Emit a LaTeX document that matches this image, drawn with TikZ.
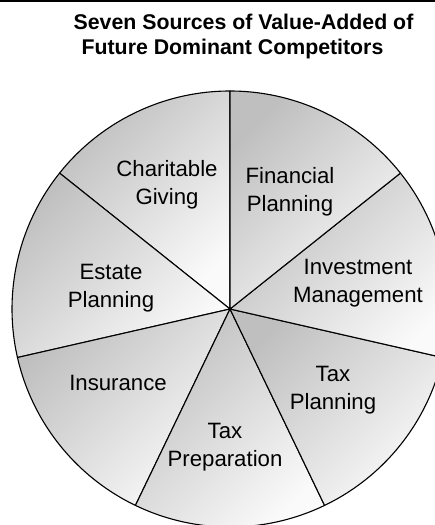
\documentclass[tikz,border=0pt]{standalone}
\usepackage{fontspec}
\setmainfont{Liberation Sans}
\definecolor{sliceDark}{HTML}{BFBFBF}
\definecolor{sliceLight}{HTML}{FAFAFA}
\begin{document}
\begin{tikzpicture}[x=1pt,y=1pt,
  slice/.style={draw=black, line width=1.1pt, line join=round,
    top color=sliceDark, bottom color=sliceLight, shading angle=45},
  lbl/.style={font=\fontsize{22.2}{28}\selectfont, align=center, text=black, inner sep=0pt},
  ttl/.style={font=\fontsize{21.3}{25}\selectfont\bfseries, anchor=base, inner sep=0pt}]
\useasboundingbox (0,0) rectangle (435,525);
\clip (0,0) rectangle (435,525);

% rule across the top
\fill[black] (0,522.5) rectangle (435,525);

% title
\node[ttl] (title1) at (243.5,495.7) {Seven Sources of Value-Added of};
\node[ttl] (title2) at (232.5,470.7) {Future Dominant Competitors};

% pie of seven equal slices
\coordinate (c) at (230,216);
\def\R{218}
\path[slice] (c) -- ++(90:\R)     arc[start angle=90,     end angle=141.43, radius=\R] -- cycle;
\path[slice] (c) -- ++(141.43:\R) arc[start angle=141.43, end angle=192.86, radius=\R] -- cycle;
\path[slice] (c) -- ++(192.86:\R) arc[start angle=192.86, end angle=244.29, radius=\R] -- cycle;
\path[slice] (c) -- ++(244.29:\R) arc[start angle=244.29, end angle=295.71, radius=\R] -- cycle;
\path[slice] (c) -- ++(295.71:\R) arc[start angle=295.71, end angle=347.14, radius=\R] -- cycle;
\path[slice] (c) -- ++(347.14:\R) arc[start angle=347.14, end angle=398.57, radius=\R] -- cycle;
\path[slice] (c) -- ++(38.57:\R)  arc[start angle=38.57,  end angle=90,     radius=\R] -- cycle;

% slice labels
\node[lbl] (charity)   at (167,340) {Charitable\\Giving};
\node[lbl] (financial) at (290,333) {Financial\\Planning};
\node[lbl] (invest)    at (358,242) {Investment\\Management};
\node[lbl] (estate)    at (111,237) {Estate\\Planning};
\node[lbl] (insurance) at (118,142) {Insurance};
\node[lbl] (taxplan)   at (333,135) {Tax\\Planning};
\node[lbl] (taxprep)   at (225,78)  {Tax\\Preparation};
\end{tikzpicture}
\end{document}
